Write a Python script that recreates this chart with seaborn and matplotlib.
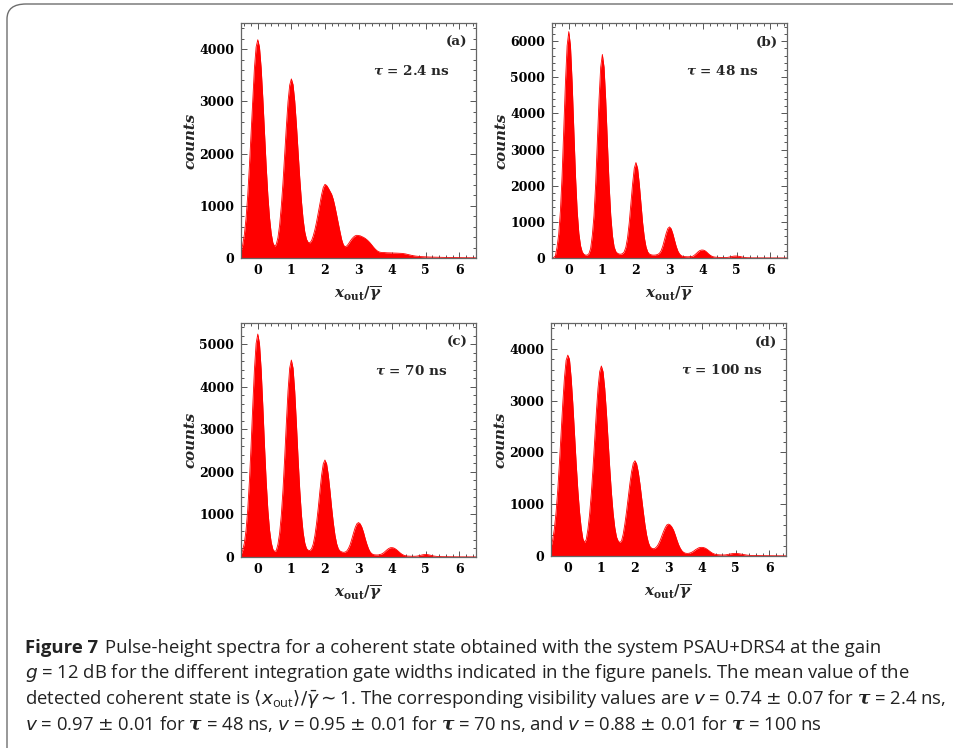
import numpy as np
import pandas as pd
import matplotlib
matplotlib.use("Agg")
import matplotlib.pyplot as plt
import seaborn as sns
from matplotlib.patches import FancyBboxPatch
from matplotlib.ticker import MultipleLocator

# histogram bin centres, x_out / gamma-bar, from -0.5 to 6.5
BINS = np.round(np.arange(-0.5, 6.5001, 0.05), 2)

# counts, one row per unit of x (20 bins each) + last bin
counts_a = [
    120, 250, 450, 760, 1200, 1760, 2400, 3060, 3640, 4040, 4180, 4040, 3640, 3060, 2400, 1760, 1200, 770, 470, 290,
    225, 260, 390, 630, 990, 1440, 1970, 2510, 2990, 3310, 3430, 3320, 3010, 2560, 2040, 1530, 1090, 740, 500, 360,
    300, 290, 330, 420, 540, 690, 860, 1040, 1210, 1350, 1410, 1390, 1340, 1280, 1220, 1120, 980, 820, 650, 490,
    350, 250, 215, 230, 270, 320, 365, 400, 425, 435, 430, 425, 410, 395, 375, 350, 320, 285, 245, 205,
    170, 140, 120, 110, 105, 105, 102, 100, 100, 98, 96, 95, 95, 93, 92, 90, 88, 84, 78, 70,
    62, 55, 48, 42, 37, 33, 30, 27, 25, 23, 21, 20, 19, 18, 17, 16, 15, 14, 13, 12,
    12, 11, 11, 10, 10, 9, 9, 8, 8, 7, 7, 6, 6, 6, 5, 5, 5, 4, 4, 4,
    3,
]
counts_b = [
    0, 10, 60, 300, 660, 1300, 2270, 3530, 4850, 5870, 6262, 5870, 4850, 3530, 2270, 1300, 680, 340, 170, 100,
    80, 80, 120, 260, 620, 1170, 2040, 3180, 4370, 5280, 5630, 5280, 4370, 3180, 2050, 1180, 620, 310, 180, 130,
    110, 105, 120, 170, 300, 560, 970, 1500, 2050, 2480, 2640, 2480, 2050, 1500, 970, 570, 310, 170, 110, 90,
    80, 80, 85, 100, 130, 200, 330, 500, 680, 815, 860, 810, 670, 490, 320, 190, 110, 65, 45, 38,
    35, 33, 35, 40, 50, 85, 125, 170, 205, 220, 220, 205, 170, 125, 85, 55, 35, 25, 20, 18,
    15, 14, 13, 13, 14, 20, 30, 42, 50, 55, 55, 50, 42, 30, 20, 13, 9, 7, 6, 5,
    5, 5, 4, 4, 4, 3, 3, 3, 3, 2, 2, 2, 2, 2, 2, 1, 1, 1, 1, 1,
    1,
]
counts_c = [
    50, 157, 330, 630, 1110, 1780, 2620, 3550, 4410, 5020, 5240, 5020, 4410, 3550, 2620, 1780, 1110, 635, 340, 180,
    130, 150, 300, 560, 980, 1570, 2320, 3140, 3900, 4440, 4630, 4440, 3900, 3140, 2320, 1580, 990, 580, 330, 200,
    160, 150, 190, 300, 500, 790, 1150, 1550, 1920, 2190, 2280, 2190, 1930, 1560, 1160, 800, 510, 310, 190, 140,
    120, 110, 115, 140, 200, 290, 420, 560, 690, 780, 810, 780, 700, 580, 430, 300, 190, 115, 75, 55,
    50, 48, 50, 60, 75, 100, 135, 170, 200, 218, 220, 212, 190, 160, 125, 90, 62, 42, 30, 22,
    20, 18, 17, 17, 18, 22, 30, 40, 50, 57, 60, 57, 50, 40, 30, 22, 16, 12, 10, 9,
    8, 8, 7, 7, 6, 6, 5, 5, 5, 4, 4, 4, 3, 3, 3, 3, 2, 2, 2, 2,
    2,
]
counts_d = [
    170, 310, 527, 842, 1268, 1786, 2367, 2945, 3440, 3780, 3880, 3800, 3440, 2945, 2367, 1786, 1270, 850, 540, 330,
    260, 320, 520, 810, 1200, 1690, 2230, 2770, 3240, 3560, 3670, 3560, 3240, 2780, 2240, 1700, 1220, 830, 550, 370,
    290, 260, 290, 420, 620, 860, 1130, 1400, 1630, 1790, 1840, 1780, 1620, 1390, 1120, 850, 600, 400, 260, 180,
    150, 140, 150, 180, 230, 300, 385, 470, 545, 600, 616, 600, 560, 500, 410, 310, 220, 150, 100, 70,
    55, 50, 52, 60, 75, 95, 120, 140, 158, 166, 167, 162, 150, 130, 105, 80, 58, 42, 32, 26,
    23, 21, 20, 20, 22, 27, 34, 41, 46, 49, 50, 48, 44, 38, 31, 25, 20, 16, 13, 11,
    10, 9, 9, 8, 8, 7, 7, 6, 6, 6, 5, 5, 5, 4, 4, 4, 4, 3, 3, 3,
    3,
]

panel_tags = ["(a)", "(b)", "(c)", "(d)"]
gate_widths = ["2.4", "48", "70", "100"]
y_tops = [4500, 6500, 5500, 4500]

sns.set_theme(style="ticks")
plt.rcParams.update({
    "font.family": ["DejaVu Serif"],
    "font.weight": "bold",
    "mathtext.fontset": "custom",
    "mathtext.rm": "DejaVu Sans:weight=normal",
    "mathtext.it": "DejaVu Sans:style=italic:weight=normal",
    "mathtext.bf": "DejaVu Serif:weight=bold",
    "mathtext.bfit": "DejaVu Serif:style=italic:weight=bold",
})

W, H = 954, 748
fig = plt.figure(figsize=(W / 100, H / 100), dpi=100)
fig.patch.set_facecolor("white")

# frame around figure + caption (rounded, runs off the right edge)
box = FancyBboxPatch((7 / W, -0.05), 1.2, 1 - 4 / H + 0.05,
                     boxstyle="round,pad=0,rounding_size=0.02",
                     transform=fig.transFigure, fc="none", ec="#6e6e6e", lw=1.0)
fig.add_artist(box)

# axes boxes in pixels: left, top, right, bottom
boxes = [(241, 23, 476, 258), (552, 23, 787, 258),
         (241, 323, 476, 557), (551, 323, 786, 556)]
all_counts = [counts_a, counts_b, counts_c, counts_d]

for (l, t, r, b), vals, tag, tau, ytop in zip(boxes, all_counts, panel_tags, gate_widths, y_tops):
    ax = fig.add_axes([l / W, 1 - b / H, (r - l) / W, (b - t) / H])
    df = pd.DataFrame({"x": BINS, "counts": vals})
    ax.fill_between(df["x"], df["counts"], color="#ff0000", lw=0)
    sns.lineplot(data=df, x="x", y="counts", ax=ax, color="#ff0000", lw=0.6)
    ax.set_xlim(-0.5, 6.5)
    ax.set_ylim(0, ytop)
    ax.xaxis.set_major_locator(MultipleLocator(1))
    ax.xaxis.set_minor_locator(MultipleLocator(0.2))
    ax.yaxis.set_major_locator(MultipleLocator(1000))
    ax.yaxis.set_minor_locator(MultipleLocator(200))
    ax.tick_params(which="both", direction="in", top=True, right=True,
                   color="#555555", width=0.7, labelsize=9, labelcolor="black")
    ax.tick_params(which="major", length=4)
    ax.tick_params(which="minor", length=2)
    ax.tick_params(axis="y", pad=5)
    ax.tick_params(axis="x", pad=4)
    for sp in ax.spines.values():
        sp.set_color("#666666")
        sp.set_linewidth(0.9)
    ax.set_xlabel(r"$\mathbfit{x}_{\mathbf{out}}\mathbf{/}\overline{\mathbfit{\gamma}}$", fontsize=11)
    ax.xaxis.set_label_coords(0.5, -0.115)
    ax.set_ylabel("counts", fontsize=10.8, style="italic", fontweight="bold")
    ax.yaxis.set_label_coords(-0.185, 0.5)
    ax.text(0.963, 0.918, tag, transform=ax.transAxes, ha="right", va="center",
            fontsize=9.7, fontweight="bold")
    ax.text(0.725, 0.795, r"$\mathbfit{\tau}$ = " + tau + " ns", transform=ax.transAxes,
            ha="center", va="center", fontsize=9.7, fontweight="bold")

# caption
cap_font = ["Open Sans", "DejaVu Sans"]
cap_size = 12.5
base_y = [652.7, 678.3, 704.0, 729.5]
x0 = 25 / W
head = fig.text(x0, 1 - base_y[0] / H, "Figure 7", family=cap_font, fontsize=cap_size,
                fontweight="bold", va="baseline", ha="left", color="#222222")
lines = [
    "Pulse-height spectra for a coherent state obtained with the system PSAU+DRS4 at the gain",
    r"$\mathit{g}$ = 12 dB for the different integration gate widths indicated in the figure panels. The mean value of the",
    r"detected coherent state is $\langle\mathit{x}_{\mathdefault{out}}\rangle/\bar{\mathit{\gamma}}\sim\mathdefault{1}$. "
    r"The corresponding visibility values are $\mathit{v}$ = 0.74 $\pm$ 0.07 for $\mathbfit{\tau}$ = 2.4 ns,",
    r"$\mathit{v}$ = 0.97 $\pm$ 0.01 for $\mathbfit{\tau}$ = 48 ns, $\mathit{v}$ = 0.95 $\pm$ 0.01 for "
    r"$\mathbfit{\tau}$ = 70 ns, and $\mathit{v}$ = 0.88 $\pm$ 0.01 for $\mathbfit{\tau}$ = 100 ns",
]
cap_texts = [fig.text(x0, 1 - base_y[i] / H, line, family=cap_font, fontsize=cap_size,
                      fontweight="normal", va="baseline", ha="left", color="#222222")
             for i, line in enumerate(lines)]

# fit the caption size so the longest line runs to the reference's right end
renderer = fig.canvas.get_renderer()
w3 = cap_texts[2].get_window_extent(renderer).width
cap_size = cap_size * 921 / w3
for t in cap_texts + [head]:
    t.set_fontsize(cap_size)
bb = head.get_window_extent(renderer)
cap_texts[0].set_x((bb.x1 + 7) / W)

fig.savefig("out.png", dpi=100)
